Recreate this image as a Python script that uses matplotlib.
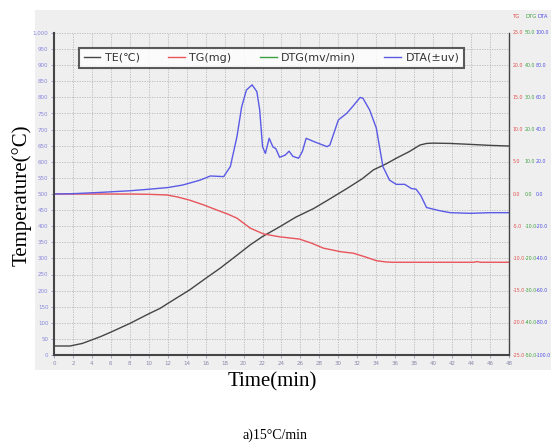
import matplotlib.pyplot as plt
from matplotlib.patches import Rectangle
from matplotlib.ticker import FuncFormatter

# 时间 / 温度曲线 (min, ℃)
te_t = [0, 1.7, 3, 4.9, 6, 8, 10, 11.2, 12, 14.3, 16, 17.5, 19, 20.7, 22, 23.8, 25.5, 27.4, 29, 30.9,
        32.5, 33.7, 35, 36.1, 37.5, 38.6, 39.3, 40, 41.8, 44, 46, 48]
te_v = [28, 28, 36, 57, 71, 98, 128, 145, 160, 202, 238, 269, 303, 342, 368, 398, 428, 455, 483, 517,
        547, 575, 593, 611, 632, 652, 657, 658, 657, 654, 651, 649]

# TG (左轴刻度下)
tg_t = [0, 4, 8, 10, 11.9, 13, 14.3, 15.8, 17.2, 18.3, 19.3, 20.7, 22.1, 23.8, 25.9, 27.2, 28.4, 30.2,
        31.6, 32.8, 34, 35, 35.7, 38, 42, 44.3, 44.6, 45, 48]
tg_v = [500, 500, 500, 499, 497, 491, 481, 466, 450, 438, 425, 394, 376, 367, 360, 347, 332, 321,
        316, 305, 293, 289, 288, 288, 288, 288, 290, 288, 288]

# DTA (左轴刻度下)
dta_t = [0, 2, 4.9, 8, 10.1, 12, 13.6, 15.4, 16.5, 17.9, 18.6, 19.3, 19.8, 20.3, 20.9, 21.4, 21.7,
         22.0, 22.3, 22.7, 23.1, 23.4, 23.8, 24.4, 24.8, 25.2, 25.8, 26.2, 26.6, 27.4, 28.8, 29.1,
         30.0, 30.9, 31.6, 32.3, 32.6, 33.3, 34.0, 34.7, 35.4, 36.1, 37.0, 37.7, 38.2, 38.7, 39.3,
         40.7, 41.8, 43.9, 46, 48]
dta_v = [500, 501, 505, 510, 515, 520, 528, 543, 556, 554, 585, 678, 771, 823, 839, 818, 761,
         647, 626, 673, 646, 641, 614, 621, 633, 617, 611, 632, 673, 663, 647, 652,
         730, 751, 775, 800, 797, 761, 705, 585, 543, 530, 530, 517, 515, 495, 458,
         448, 442, 440, 442, 442]

x_ticks = list(range(0, 49, 2))
y_ticks = list(range(0, 1001, 50))
r_ticks = list(range(0, 1001, 100))
tg_labels = [-25.0, -20.0, -15.0, -10.0, -5.0, 0.0, 5.0, 10.0, 15.0, 20.0, 25.0]
dtg_labels = [-50.0, -40.0, -30.0, -20.0, -10.0, 0.0, 10.0, 20.0, 30.0, 40.0, 50.0]
dta_labels = [-100.0, -80.0, -60.0, -40.0, -20.0, 0.0, 20.0, 40.0, 60.0, 80.0, 100.0]

fig = plt.figure(figsize=(5.51, 4.48), dpi=100)
fig.patches.append(Rectangle((35/551, 78/448), 516/551, 360/448, transform=fig.transFigure,
                             facecolor='#efefef', edgecolor='none', zorder=-5))
ax = fig.add_axes([54/551, 93/448, 455/551, 322/448])
ax.set_facecolor('#efefef')

l1, = ax.plot(te_t, te_v, color='#454545', lw=1.0)
l2, = ax.plot(tg_t, tg_v, color='#e8545a', lw=1.0)
l3, = ax.plot([], [], color='#3aa040', lw=1.0)
l4, = ax.plot(dta_t, dta_v, color='#5a5ae6', lw=1.0)

ax.set_xlim(0, 48)
ax.set_ylim(0, 1000)
ax.set_xticks(x_ticks)
ax.set_yticks(y_ticks)
ax.yaxis.set_major_formatter(FuncFormatter(lambda v, p: f"{int(v):,}"))
ax.tick_params(axis='both', labelsize=4, length=2, width=0.5, colors='#8888dd', pad=2)
ax.tick_params(axis='x', colors='#8888aa')
ax.grid(True, ls=(0, (1.5, 1.5)), color='#b8b8b8', lw=0.6)
for s in ['left', 'bottom', 'right']:
    ax.spines[s].set_color('#444444')
    ax.spines[s].set_linewidth(1.5)
ax.spines['right'].set_linewidth(1.0)
ax.spines['top'].set_visible(False)

# 右侧三列刻度
for i, yv in enumerate(r_ticks):
    ax.text(1.008, yv, f"{tg_labels[i]:.1f}", color='#e05050', fontsize=3.4, va='center',
            transform=ax.get_yaxis_transform())
    ax.text(1.034, yv, f"{dtg_labels[i]:.1f}", color='#40a040', fontsize=3.4, va='center',
            transform=ax.get_yaxis_transform())
    ax.text(1.059, yv, f"{dta_labels[i]:.1f}", color='#5050e0', fontsize=3.4, va='center',
            transform=ax.get_yaxis_transform())
fig.text(513/551, 1 - 16/448, "TG", color='#e05050', fontsize=3.8, va='center')
fig.text(526/551, 1 - 16/448, "DTG", color='#40a040', fontsize=3.8, va='center')
fig.text(537/551, 1 - 16/448, "DTA", color='#5050e0', fontsize=3.8, va='center')

leg = ax.legend(handles=[l1, l2, l3, l4], labels=["TE(℃)", "TG(mg)", "DTG(mv/min)", "DTA(±uv)"],
                ncol=4, loc='upper left', bbox_to_anchor=(19/455, 1 - 9/322, 397/455, 0),
                mode='expand', frameon=True, fancybox=False, handlelength=1.5,
                handletextpad=0.4, borderpad=0.45, prop={'family': ['DejaVu Sans'], 'size': 8})
leg.get_frame().set_edgecolor('#333333')
leg.get_frame().set_linewidth(1.5)
for t in leg.get_texts():
    t.set_color('#333333')

fig.text(22/551, 1 - 195/448, "Temperature(°C)", family='Liberation Serif', fontsize=15,
         rotation=90, ha='center', va='center')
fig.text(272/551, 1 - 382/448, "Time(min)", family='Liberation Serif', fontsize=15,
         ha='center', va='center')
fig.text(275/551, 1 - 435/448, "a)15°C/min", family='Liberation Serif', fontsize=10,
         ha='center', va='center')

fig.savefig('out.png', dpi=100)
